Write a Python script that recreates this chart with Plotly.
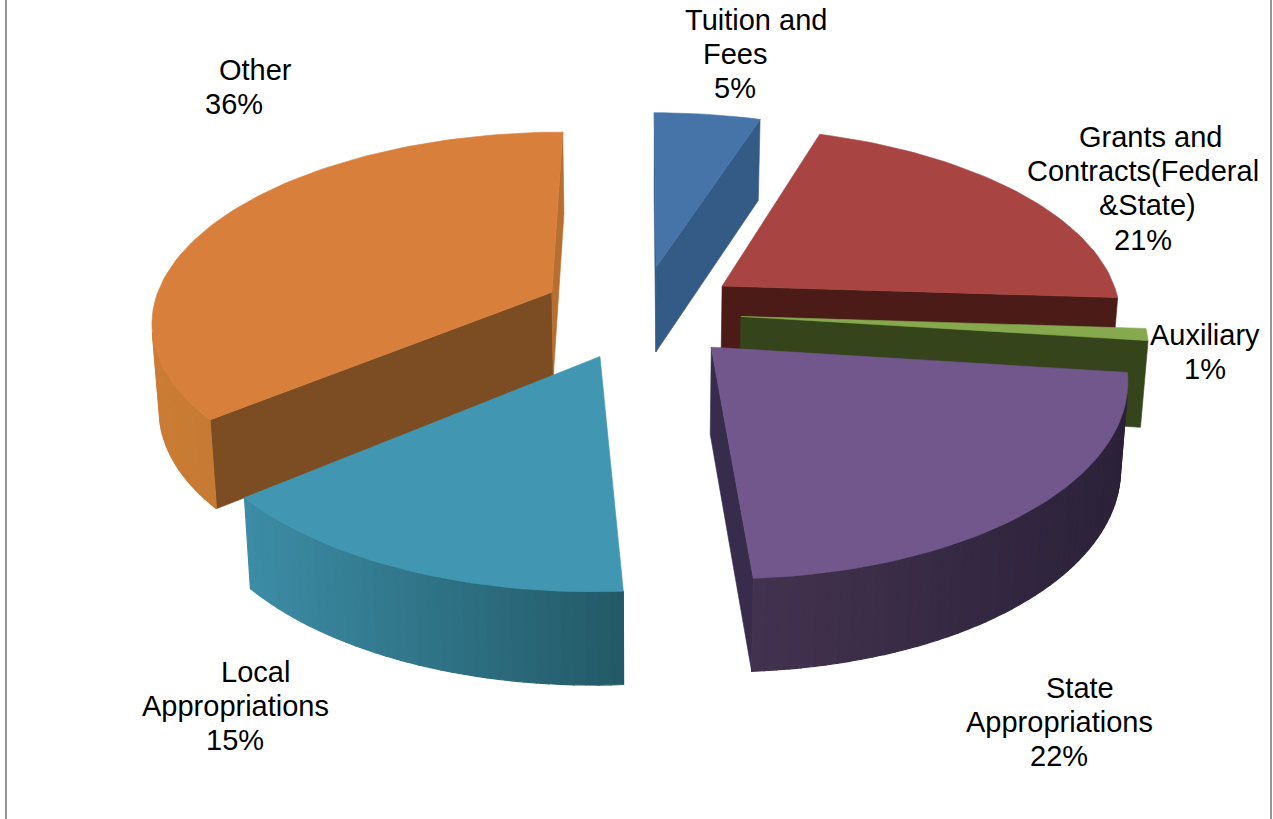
import numpy as np
import plotly.graph_objects as go

# Revenue shares, in percent, clockwise from twelve o'clock
shares = [5, 21, 1, 22, 15, 36]

# Label lines per slice; the percentage line is appended from the shares
name_lines = [
    ["Tuition and", "Fees"],
    ["Grants and", "Contracts(Federal", "&State)"],
    ["Auxiliary"],
    ["State", "Appropriations"],
    ["Local", "Appropriations"],
    ["Other"],
]

# Centre x of every label line and y of its first line, in page pixels
label_x = [
    [756, 735, 735],
    [1150, 1143, 1147, 1143],
    [1205, 1205],
    [1080, 1059, 1059],
    [255, 235, 235],
    [255, 234],
]
label_top = [20, 137, 335, 688, 672, 70]
LINE_STEP = 34.2

# Slice colours: top face, cut face, outer wall (left end, right end)
top_color = ["#4674A9", "#A84543", "#86A94E", "#71578C", "#4197B1", "#D8803B"]
cut_color = ["#345B86", "#4A1B17", "#36441C", "#382C4C", "#245864", "#7C4C22"]
wall_left = ["#345B86", "#4A1B17", "#5F7F30", "#43324F", "#3C8CA5", "#CB7C35"]
wall_right = ["#345B86", "#4A1B17", "#5F7F30", "#2B2239", "#235A68", "#C67A33"]
# The clockwise cut of the large slice catches more light than its front cut
far_cut_override = {5: "#B86E2E"}

# Projection of the pie onto the page
CX, CY = 641.0, 312.0
RX, RY = 400.0, 188.0
PERSPECTIVE = 0.1414
PULL = 0.25
THICKNESS = 86.0
FOOT_X, FOOT_Y = 0.985, 1.026


def project(x, y, bottom=False):
    s = 1.0 / (1.0 - PERSPECTIVE * y)
    px, py = RX * x * s, RY * y * s
    if bottom:
        return CX + FOOT_X * px, CY + FOOT_Y * py + THICKNESS
    return CX + px, CY + py


def unit(theta):
    # Angle runs clockwise from the far side of the pie; +y points to the viewer
    return np.sin(theta), -np.cos(theta)


def hex_rgb(code):
    return np.array([int(code[i:i + 2], 16) for i in (1, 3, 5)], dtype=float)


def blend(a, b, t):
    r, g, bl = hex_rgb(a) * (1 - t) + hex_rgb(b) * t
    return f"rgb({r:.0f},{g:.0f},{bl:.0f})"


def signed_area(points):
    xs, ys = np.array(points).T
    return 0.5 * np.sum(xs * np.roll(ys, -1) - np.roll(xs, -1) * ys)


def polygon(points, color, width=0.6):
    xs, ys = zip(*points)
    return go.Scatter(
        x=list(xs) + [xs[0]], y=list(ys) + [ys[0]],
        mode="lines", fill="toself", fillcolor=color,
        line=dict(color=color, width=width),
        hoverinfo="skip", showlegend=False,
    )


def extrude(a, b):
    return [project(*a), project(*b), project(*b, bottom=True), project(*a, bottom=True)]


fractions = np.array(shares, dtype=float) / sum(shares)
edges = np.concatenate([[0.0], np.cumsum(fractions)]) * 2 * np.pi

fig = go.Figure()

# Painted far to near so the closer slices cover the ones behind them
for i in [0, 1, 5, 2, 3, 4]:
    start, end = edges[i], edges[i + 1]
    ux, uy = unit((start + end) / 2)
    apex = (PULL * ux, PULL * uy)
    steps = max(3, int(np.degrees(end - start) / 1.5))
    rim = [(apex[0] + unit(t)[0], apex[1] + unit(t)[1])
           for t in np.linspace(start, end, steps + 1)]

    # Flat cut faces, only those turned towards the viewer
    for a, b, color in [
        (apex, rim[0], cut_color[i]),
        (rim[-1], apex, far_cut_override.get(i, cut_color[i])),
    ]:
        quad = extrude(a, b)
        if signed_area(quad) < 0:
            fig.add_trace(polygon(quad, color))

    # Curved outer wall, shaded across its width
    walls = []
    for a, b in zip(rim[:-1], rim[1:]):
        quad = extrude(a, b)
        if signed_area(quad) < 0:
            walls.append(quad)
    if walls:
        xs = [q[0][0] for q in walls]
        low, high = min(xs), max(xs)
        for quad in walls:
            t = (quad[0][0] - low) / max(high - low, 1.0)
            fig.add_trace(polygon(quad, blend(wall_left[i], wall_right[i], t), width=1.2))

    # Top face
    fig.add_trace(polygon([project(*apex)] + [project(*p) for p in rim], top_color[i]))

# Labels are placed line by line because their spacing is tighter than the default
annotations = []
for names, xs, top, value in zip(name_lines, label_x, label_top, shares):
    for k, (text, x) in enumerate(zip(names + [f"{value}%"], xs)):
        annotations.append(dict(
            x=x, y=top + k * LINE_STEP, text=text, showarrow=False,
            xanchor="center", yanchor="middle",
            font=dict(family="Liberation Sans", size=29, color="#000000"),
        ))

# Thin grey frame down both sides of the page
frame = [
    dict(type="line", x0=x, x1=x, y0=0, y1=819, line=dict(color="#969696", width=2))
    for x in (6, 1271)
]

fig.update_layout(
    width=1273, height=819, autosize=False,
    margin=dict(l=0, r=0, t=0, b=0),
    paper_bgcolor="#FFFFFF", plot_bgcolor="#FFFFFF",
    xaxis=dict(range=[0, 1273], visible=False, fixedrange=True),
    yaxis=dict(range=[819, 0], visible=False, fixedrange=True),
    annotations=annotations, shapes=frame, showlegend=False,
)

fig.write_html("out.html", config=dict(displayModeBar=False))
